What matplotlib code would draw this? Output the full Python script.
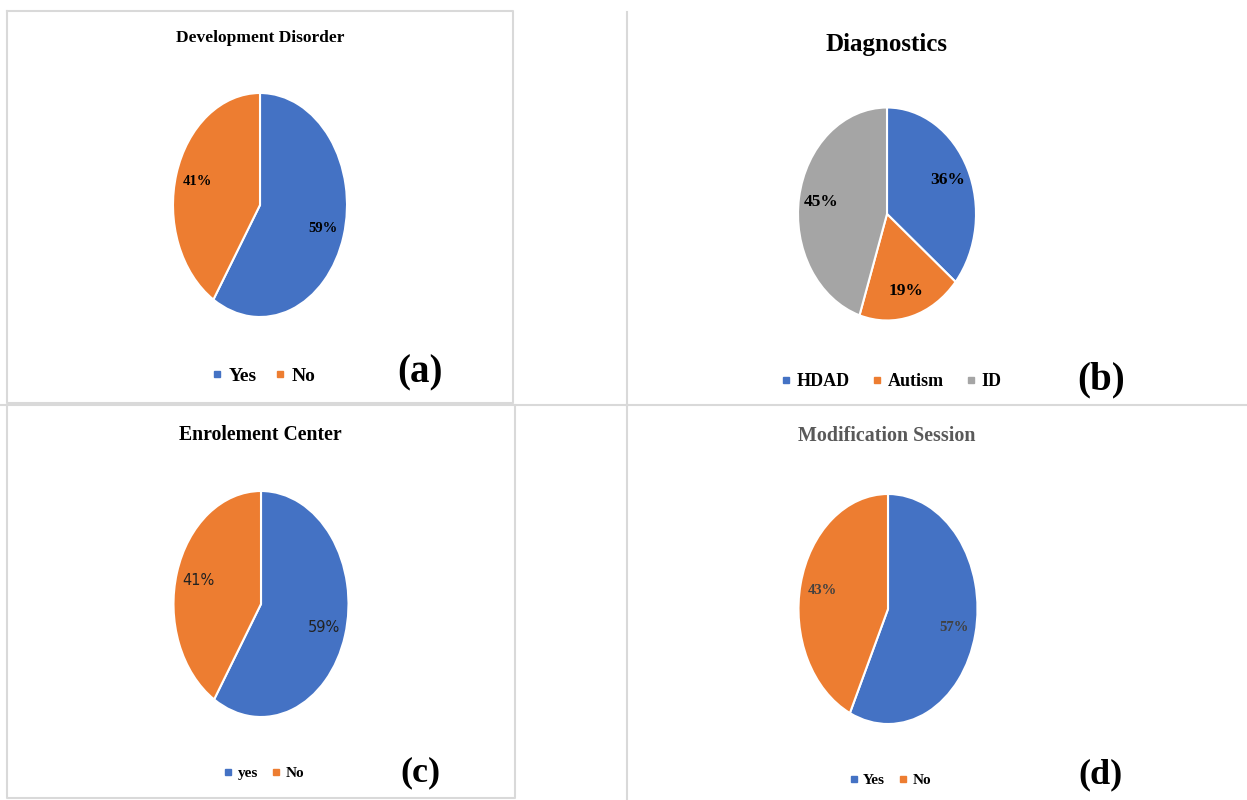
import matplotlib.pyplot as plt
from matplotlib.lines import Line2D

W, H = 1247, 800

# colori stile Office
BLUE = '#4472C4'
ORANGE = '#ED7D31'
GRAY = '#A5A5A5'

# dati dei quattro grafici
dev_labels = ['Yes', 'No']
dev_values = [59, 41]

diag_labels = ['HDAD', 'Autism', 'ID']
diag_values = [36, 19, 45]

enrol_labels = ['yes', 'No']
enrol_values = [59, 41]

mod_labels = ['Yes', 'No']
mod_values = [57, 43]


def px(x, y):
    # coordinate in pixel (origine in alto a sinistra) -> frazione della figura
    return x / W, 1 - y / H


def pie_axes(cx, cy, rx, ry):
    x0, y1 = px(cx - rx, cy + ry)
    return fig.add_axes([x0, y1, 2 * rx / W, 2 * ry / H])


def draw_pie(ax, values, colors, pct_font):
    ax.pie(values, colors=colors, startangle=90, counterclock=False,
           autopct='%1.0f%%', pctdistance=0.75,
           wedgeprops=dict(edgecolor='white', linewidth=1.5),
           textprops=pct_font)
    ax.set_aspect('auto')
    ax.set_xlim(-1, 1)
    ax.set_ylim(-1, 1)
    ax.axis('off')


def add_legend(ax, labels, colors, x, y, size, ms, colsp=0.9):
    handles = [Line2D([], [], marker='s', ls='', color=c, markersize=ms) for c in colors]
    ax.legend(handles, labels, loc='center', bbox_to_anchor=px(x, y),
              bbox_transform=fig.transFigure, frameon=False, ncol=len(labels),
              handlelength=0.6, handletextpad=0.3, columnspacing=colsp,
              borderaxespad=0, borderpad=0,
              prop=dict(family='Liberation Serif', weight='bold', size=size))


fig = plt.figure(figsize=(W / 100, H / 100), dpi=100)
serif = 'Liberation Serif'

# cornici grigie dei pannelli
edge = '#d9d9d9'
frame = fig.add_axes([0, 0, 1, 1])
frame.set_xlim(0, W)
frame.set_ylim(H, 0)
frame.axis('off')
frame.plot([7, 513, 513, 7, 7], [11, 11, 403, 403, 11], color=edge, lw=1.5)
frame.plot([0, W], [405, 405], color=edge, lw=1.5)
frame.plot([627, 627], [12, 405], color=edge, lw=1.5)
frame.plot([7, 7, 515, 515], [405, 798, 798, 405], color=edge, lw=1.5)
frame.plot([627, 627], [405, 800], color=edge, lw=1.5)

# (a) Development Disorder
ax_a = pie_axes(260, 205, 87, 112)
draw_pie(ax_a, dev_values, [BLUE, ORANGE],
         dict(family=serif, weight='bold', size=10.5, color='black'))
fig.text(*px(260, 38), 'Development Disorder', ha='center', va='center',
         family=serif, weight='bold', size=12.5)
add_legend(ax_a, dev_labels, [BLUE, ORANGE], 263, 376, 14, 5)
fig.text(*px(420, 373), '(a)', ha='center', va='center', family=serif,
         weight='bold', size=28)

# (b) Diagnostics
ax_b = pie_axes(887, 214, 89, 106.5)
draw_pie(ax_b, diag_values, [BLUE, ORANGE, GRAY],
         dict(family=serif, weight='bold', size=12.5, color='black'))
fig.text(*px(887, 44), 'Diagnostics', ha='center', va='center',
         family=serif, weight='bold', size=18)
add_legend(ax_b, diag_labels, [BLUE, ORANGE, GRAY], 891, 382, 13, 5, colsp=1.2)
fig.text(*px(1101, 380), '(b)', ha='center', va='center', family=serif,
         weight='bold', size=28)

# (c) Enrolement Center
ax_c = pie_axes(261, 604, 87.5, 113)
draw_pie(ax_c, enrol_values, [BLUE, ORANGE],
         dict(family=['Liberation Sans Narrow', 'DejaVu Sans'], size=10.5,
              color='#222222'))
fig.text(*px(260, 435), 'Enrolement Center', ha='center', va='center',
         family=serif, weight='bold', size=14.2)
add_legend(ax_c, enrol_labels, [BLUE, ORANGE], 264, 773, 11, 4)
fig.text(*px(420, 773), '(c)', ha='center', va='center', family=serif,
         weight='bold', size=26)

# (d) Modification Session
ax_d = pie_axes(888, 609, 89.5, 115)
draw_pie(ax_d, mod_values, [BLUE, ORANGE],
         dict(family=serif, weight='bold', size=10.5, color='#404040'))
fig.text(*px(887, 436), 'Modification Session', ha='center', va='center',
         family=serif, weight='bold', size=14.4, color='#595959')
add_legend(ax_d, mod_labels, [BLUE, ORANGE], 890, 780, 11, 4)
fig.text(*px(1101, 775), '(d)', ha='center', va='center', family=serif,
         weight='bold', size=26)

fig.savefig('out.png', dpi=100)
